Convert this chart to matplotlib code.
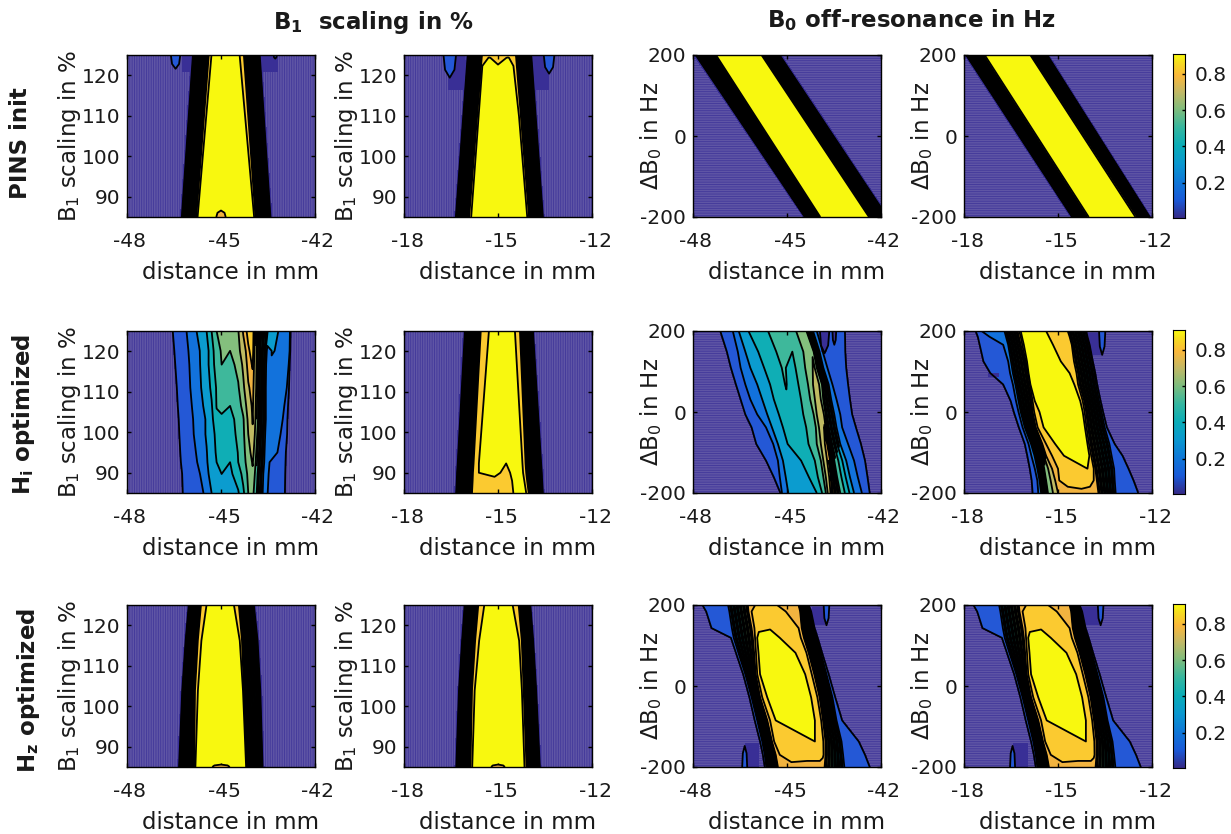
import numpy as np
import matplotlib
matplotlib.use('Agg')
import matplotlib.pyplot as plt
from matplotlib.colors import LinearSegmentedColormap
from matplotlib.transforms import ScaledTranslation

plt.rcParams['font.family'] = 'DejaVu Sans'
plt.rcParams['mathtext.default'] = 'regular'
plt.rcParams['axes.unicode_minus'] = False
plt.rcParams['hatch.color'] = '#41379a'
plt.rcParams['hatch.linewidth'] = 0.6

# every map is stored as contour curves:
# x columns in mm (one entry per y row), z columns = value along that curve
band = [0.02, 0.85, 0.92, 0.92, 0.85, 0.02]

# --- PINS init ---
init_b1_45_y = [125, 85]
init_b1_45_x = [[-45.95, -46.30], [-45.39, -45.79], [-45.27, -45.73],
                [-44.46, -43.96], [-44.27, -43.90], [-43.71, -43.37]]
init_b1_15_y = [125, 124.3, 122.3, 85]
init_b1_15_x = [[-16.01, -16.02, -16.04, -16.39], [-15.51, -15.52, -15.54, -15.92],
                [-15.47, -15.42, -15.50, -15.83], -15.29, -15.0, -14.68,
                [-14.47, -14.46, -14.45, -14.09], [-14.43, -14.42, -14.40, -14.01],
                [-13.89, -13.88, -13.86, -13.52]]
init_b1_15_z = [0.02, 0.85, [0.86, 0.87, 0.90, 0.92], [0.87, 0.905, 0.93, 0.93],
                [0.87, 0.875, 0.905, 0.93], [0.87, 0.905, 0.93, 0.93],
                [0.86, 0.87, 0.89, 0.92], 0.85, 0.02]
init_b0_45_y = [200, -200]
init_b0_45_x = [[-47.98, -44.48], [-47.31, -43.98], [-47.25, -43.92],
                [-45.83, -42.40], [-45.77, -42.34], [-45.18, -41.74]]
init_b0_15_x = [[-17.99, -14.60], [-17.39, -14.07], [-17.32, -14.00],
                [-15.90, -12.55], [-15.84, -12.47], [-15.29, -12.03]]

# --- Hi optimized ---
hi_b1_45_y = [125, 120.1, 116.7, 111, 106.5, 103.2, 99.5, 95, 92.6, 89.7, 85]
hi_b1_45_x = [[-46.54, -46.49, -46.46, -46.41, -46.38, -46.35, -46.33, -46.30, -46.28, -46.24, -46.22],
              [-46.10, -46.04, -46.01, -45.98, -45.93, -45.89, -45.87, -45.80, -45.76, -45.67, -45.56],
              -45.46, -45.30, -45.14, -44.98, -44.71, -44.45, -44.29, -44.13, -43.99, -43.86,
              [-43.49, -43.53, -43.56, -43.57, -43.57, -43.57, -43.59, -43.61, -43.62, -43.65, -43.67],
              [-43.33, -43.31, -43.53, -43.54, -43.54, -43.54, -43.56, -43.58, -43.59, -43.62, -43.64],
              [-43.17, -43.17, -43.49, -43.50, -43.50, -43.50, -43.52, -43.54, -43.55, -43.58, -43.60],
              [-42.80, -42.81, -42.84, -42.90, -42.98, -43.03, -43.10, -43.20, -43.45, -43.48, -43.51],
              [-42.78, -42.79, -42.81, -42.83, -42.86, -42.88, -42.89, -42.93, -42.94, -42.95, -42.96]]
hi_b1_45_z = [0.1, 0.2,
              [.40, .36, .36, .35, .33, .31, .31, .295, .29, .28, .24],
              [.50, .46, .46, .42, .39, .37, .37, .36, .35, .33, .30],
              [.60, .56, .54, .51, .505, .48, .42, .41, .40, .37, .32],
              [.62, .61, .60, .52, .515, .49, .43, .42, .415, .40, .34],
              [.65, .60, .565, .55, .50, .47, .46, .42, .40, .38, .37],
              [.695, .67, .63, .59, .56, .53, .52, .505, .50, .45, .39],
              [.81, .76, .72, .68, .63, .59, .58, .57, .565, .53, .48],
              [.87, .84, .83, .79, .75, .72, .70, .66, .64, .62, .60],
              [.89, .875, .855, .83, .815, .805, .79, .74, .71, .68, .63],
              [.70, .70, .69, .68, .66, .65, .62, .58, .56, .53, .50],
              [.33, .29, .30, .30, .30, .30, .30, .30, .30, .30, .30],
              [.33, .305, .29, .29, .29, .29, .29, .29, .29, .29, .29],
              [.30, .27, .28, .28, .28, .28, .28, .28, .28, .28, .28],
              0.2, 0.1]

hi_b1_15_y = [125, 92.3, 90, 88, 85]
hi_b1_15_x = [[-16.11, -16.34, -16.36, -16.37, -16.39], [-15.55, -15.78, -15.80, -15.81, -15.83],
              [-15.29, -15.61, -15.61, -15.65, -15.78], -15.11, -14.74,
              [-14.60, -14.55, -14.55, -14.55, -14.55], [-14.52, -14.43, -14.43, -14.43, -14.43],
              [-14.46, -14.22, -14.20, -14.16, -14.10], [-14.30, -14.12, -14.10, -14.07, -14.02],
              [-13.84, -13.57, -13.55, -13.54, -13.52]]
hi_b1_15_z = [0.02, 0.85, [.90, .90, .90, .88, .87], [.93, .93, .92, .88, .87],
              [.93, .90, .88, .87, .87], [.93, .93, .91, .90, .89], [.93, .93, .93, .93, .92],
              0.90, 0.85, 0.02]

hi_b0_45_y = [200, 149, 109, 68, 31, -6, -38, -79, -120, -161, -200]
hi_b0_45_x = [[-47.13, -46.92, -46.79, -46.63, -46.48, -46.33, -46.13, -45.98, -45.67, -45.42, -45.21],
              [-46.73, -46.57, -46.48, -46.33, -46.17, -45.95, -45.67, -45.44, -45.29, -45.23, -45.16],
              [-46.54, -46.33, -46.17, -45.95, -45.79, -45.63, -45.48, -45.29, -45.13, -45.04, -44.96],
              [-46.23, -45.92, -45.73, -45.54, -45.42, -45.26, -45.13, -44.98, -44.55, -44.30, -44.05],
              [-45.23, -45.17, -45.11, -45.04, -44.98, -44.86, -44.80, -44.73, -44.42, -44.17, -43.98],
              [-44.86, -44.83, -44.82, -44.76, -44.67, -44.58, -44.48, -44.42, -44.17, -44.05, -43.88],
              [-44.71, -44.48, -44.42, -44.33, -44.26, -44.15, -44.08, -44.05, -43.92, -43.84, -43.76],
              [-44.56, -44.28, -44.23, -44.17, -44.11, -44.05, -43.98, -43.92, -43.84, -43.76, -43.70],
              [-44.46, -44.21, -44.13, -44.02, -43.96, -43.86, -43.82, -43.74, -43.66, -43.59, -43.55],
              [-44.38, -44.15, -44.05, -43.92, -43.86, -43.77, -43.71, -43.61, -43.49, -43.40, -43.30],
              [-44.17, -43.96, -43.84, -43.67, -43.59, -43.49, -43.42, -43.30, -43.11, -42.99, -42.86],
              [-44.05, -43.86, -43.71, -43.55, -43.42, -43.30, -43.24, -43.05, -42.86, -42.74, -42.61],
              [-43.15, -43.14, -43.11, -43.05, -42.99, -42.92, -42.80, -42.64, -42.51, -42.43, -42.36]]
hi_b0_45_z = [0.1, 0.2, 0.3, 0.4,
              [.56, .53, .51, .505, .49, .47, .45, .42, .43, .45, .45],
              [.57, .50, .47, .46, .46, .47, .47, .46, .47, .48, .50],
              0.6,
              [.66, .68, .68, .70, .70, .70, .70, .70, .70, .70, .70],
              [.68, .69, .72, .74, .75, .77, .80, .84, .85, .86, .87],
              [.60, .60, .60, .65, .62, .60, .60, .60, .60, .60, .60],
              0.3, 0.2, 0.1]

hi_b0_15_y = [200, 186, 166, 125, 96, 68, 27, 0, -38, -79, -108, -140, -169, -200]
hi_b0_15_x = [[-17.63, -17.56, -17.50, -17.38, -17.16, -16.75, -16.51, -16.41, -16.25, -16.06, -15.98, -15.90, -15.84, -15.81],
              [-17.44, -17.19, -16.75, -16.59, -16.53, -16.44, -16.34, -16.26, -16.13, -15.94, -15.85, -15.74, -15.66, -15.63],
              [-16.71, -16.66, -16.59, -16.50, -16.44, -16.36, -16.26, -16.19, -16.06, -15.86, -15.75, -15.66, -15.59, -15.54],
              [-16.46, -16.41, -16.35, -16.24, -16.18, -16.11, -16.01, -15.96, -15.85, -15.64, -15.52, -15.44, -15.38, -15.32],
              [-16.29, -16.25, -16.19, -16.06, -16.00, -15.94, -15.85, -15.81, -15.71, -15.50, -15.38, -15.19, -15.09, -15.00],
              [-16.24, -16.19, -16.14, -16.03, -15.96, -15.90, -15.81, -15.76, -15.65, -15.38, -15.19, -15.00, -14.96, -14.94],
              [-16.19, -16.15, -16.09, -15.99, -15.94, -15.88, -15.74, -15.59, -15.46, -15.09, -14.81, -14.44, -14.69, -14.69],
              [-15.79, -15.72, -15.63, -15.44, -15.29, -15.19, -15.01, -14.90, -14.80, -14.56, -14.44, -14.06, -14.25, -14.25],
              [-15.38, -15.29, -15.16, -14.91, -14.63, -14.48, -14.29, -14.21, -14.14, -14.06, -14.00, -13.96, -13.98, -13.98],
              [-14.69, -14.63, -14.56, -14.49, -14.41, -14.36, -14.21, -14.15, -14.09, -14.01, -13.94, -13.86, -13.86, -13.79],
              [-14.63, -14.60, -14.53, -14.44, -14.36, -14.31, -14.16, -14.10, -14.04, -13.96, -13.89, -13.81, -13.76, -13.71],
              [-14.13, -14.09, -14.01, -13.91, -13.84, -13.79, -13.69, -13.61, -13.51, -13.36, -13.29, -13.21, -13.19, -13.16],
              [-14.10, -14.06, -13.99, -13.89, -13.81, -13.75, -13.64, -13.56, -13.44, -13.19, -12.94, -12.75, -12.59, -12.44]]
hi_b0_15_z = [0.1, 0.2, 0.3, 0.6, 0.8,
              [.85, .85, .85, .85, .85, .85, .85, .85, .85, .85, .85, .85, .85, .83],
              [.90, .90, .90, .90, .90, .90, .90, .90, .90, .90, .90, .88, .86, .84],
              [.92, .92, .92, .92, .92, .92, .92, .92, .92, .92, .92, .90, .87, .84],
              [.90, .90, .90, .90, .90, .90, .90, .90, .90, .90, .90, .88, .86, .84],
              [.85, .85, .85, .85, .85, .85, .85, .85, .85, .85, .85, .85, .85, .835],
              0.8, 0.2, 0.1]

# --- Hz optimized ---
hz_b1_y = [125, 116.2, 103.9, 85]
hz_b1_45_x = [[-46.07, -46.17, -46.28, -46.39], [-45.64, -45.74, -45.83, -45.86],
              [-45.39, -45.58, -45.70, -45.80], [-44.65, -44.43, -44.31, -44.21],
              [-44.43, -44.33, -44.27, -44.17], [-43.90, -43.78, -43.69, -43.62]]
hz_b1_15_x = [[-16.11, -16.19, -16.29, -16.38], [-15.63, -15.73, -15.83, -15.88],
              [-15.36, -15.55, -15.71, -15.80], [-14.61, -14.36, -14.26, -14.18],
              [-14.34, -14.24, -14.18, -14.09], [-13.93, -13.84, -13.74, -13.62]]

hz_b0_y = [200, 184, 143, 119, 82, 29, -28, -85, -137, -170, -200]
hz_b0_45_x = [[-47.70, -47.58, -47.41, -46.79, -46.63, -46.40, -46.20, -46.03, -45.86, -45.77, -45.71],
              [-46.88, -46.84, -46.76, -46.70, -46.55, -46.33, -46.13, -45.95, -45.79, -45.71, -45.66],
              [-46.25, -46.23, -46.13, -46.09, -46.05, -46.00, -45.86, -45.63, -45.48, -45.36, -45.29],
              [-46.17, -46.13, -46.04, -46.02, -45.99, -45.95, -45.79, -45.54, -45.41, -45.23, -45.04],
              [-45.86, -45.86, -45.88, -45.93, -45.91, -45.86, -45.63, -45.36, -44.48, -44.86, -44.86],
              [-45.42, -45.42, -45.54, -45.54, -45.29, -45.17, -44.92, -44.73, -44.11, -44.36, -44.36],
              [-45.11, -45.04, -44.92, -45.23, -44.73, -44.42, -44.23, -44.11, -43.96, -43.92, -43.98],
              [-44.80, -44.73, -44.63, -44.56, -44.38, -44.21, -44.03, -43.91, -43.84, -43.84, -43.91],
              [-44.63, -44.58, -44.53, -44.46, -44.31, -44.13, -43.96, -43.85, -43.77, -43.77, -43.80],
              [-44.33, -44.25, -44.15, -44.05, -43.92, -43.74, -43.55, -43.42, -43.26, -43.21, -43.17],
              [-44.31, -44.23, -44.12, -44.02, -43.88, -43.67, -43.46, -43.24, -42.71, -42.51, -42.36]]
hz_b0_z = [0.1, 0.2, 0.8,
           [.84, .85, .85, .85, .85, .85, .85, .85, .85, .85, .83],
           [.86, .87, .89, .915, .90, .90, .90, .90, .885, .865, .84],
           [.86, .87, .895, .93, .93, .93, .93, .93, .90, .86, .84],
           [.83, .85, .87, .90, .90, .90, .90, .90, .88, .86, .84],
           [.82, .83, .85, .85, .85, .85, .85, .85, .85, .855, .835],
           0.8, 0.2, 0.1]

# small lobes: x centre, half width, y at the tip, y at the frame, colour slot
init_b1_45_lobes = [(-46.45, 0.15, 121.6, 125, 2), (-43.27, 0.05, 124.1, 125, 2), (-45.0, 0.15, 86.6, 85, 9)]
init_b1_15_lobes = [(-16.54, 0.20, 119.4, 125, 2), (-13.37, 0.17, 120.4, 125, 2)]
hi_b0_45_lobes = [(-43.80, 0.15, 145, 200, 1), (-43.49, 0.06, 166, 200, 1)]
hi_b0_15_lobes = [(-13.59, 0.10, 141, 200, 2)]
hz_b1_45_lobes = [(-45.0, 0.28, 85.6, 85, 9)]
hz_b1_15_lobes = [(-15.0, 0.22, 85.6, 85, 9)]
hz_b0_45_lobes = [(-43.74, 0.09, 150, 200, 2), (-46.35, 0.08, -148, -200, 2)]
hz_b0_15_lobes = [(-13.64, 0.09, 150, 200, 2), (-16.45, 0.08, -148, -200, 2)]

# dark rectangles in the background: x0, x1, y0, y1
init_b1_45_dark = [(-46.24, -45.93, 120.8, 125), (-43.74, -43.19, 120.8, 125)]
init_b1_15_dark = [(-16.58, -16.06, 116.4, 125), (-13.87, -13.37, 116.4, 125)]
hi_b0_45_dark = [(-43.92, -43.73, 149, 200)]
hi_b0_15_dark = [(-14.12, -13.62, 141, 194), (-17.25, -16.88, 86, 96)]
hz_b0_45_dark = [(-44.20, -43.80, 150, 196), (-46.35, -45.88, -200, -141)]
hz_b0_15_dark = [(-14.22, -13.70, 150, 196), (-16.45, -15.95, -200, -141)]

levels = [-0.01, 0.03, 0.1, 0.2, 0.3, 0.4, 0.5, 0.6, 0.7, 0.8, 0.85, 0.9, 1.0]
line_levels = levels[2:-1]
# in steep flanks the contour lines run together to solid black
steep_levels = [0.13, 0.15, 0.16, 0.25, 0.27, 0.35, 0.37, 0.45, 0.47, 0.55, 0.57, 0.65, 0.67, 0.75, 0.77]
steep_slope = 0.9  # value per mm
steep_step = 0.19
zone_colors = ['#5f55a5', '#392f96', '#2458d6', '#1272dc', '#0b9ccf', '#0faeb5',
               '#3eb89b', '#84bf7d', '#c0bb62', '#f1b340', '#fbca30', '#f8f80f']

parula = LinearSegmentedColormap.from_list('parula', [
    (0.0, '#352a87'), (0.11, '#1a5ad8'), (0.22, '#0f78d8'), (0.33, '#0a98d0'),
    (0.44, '#0aadb8'), (0.55, '#35b7a0'), (0.66, '#7dbd7e'), (0.77, '#c3b966'),
    (0.87, '#fbb83c'), (0.95, '#f6dc20'), (1.0, '#f9fb0e')])

W, H = 1231, 834
col_px = [(127, 315), (404, 592), (693, 881), (964, 1152)]
row_px = [(55, 217), (331, 493), (605, 767)]
bar_px = (1173, 1185)
text_color = '#1a1a1a'
LW = 1.3


def px_axes(fig, x0, x1, y0, y1):
    return fig.add_axes([x0 / W, 1 - y1 / H, (x1 - x0) / W, (y1 - y0) / H])


def draw_map(ax, y, x_cols, z_cols, lobes=(), dark=(), hatch='|||||||'):
    n = len(y)
    x = np.column_stack([np.broadcast_to(c, (n,)) for c in x_cols]).astype(float)
    z = np.column_stack([np.broadcast_to(c, (n,)) for c in z_cols]).astype(float)
    lo, hi = ax.get_xlim()
    # purple background out to both sides of the curves
    x = np.column_stack([np.full(n, lo - 3), x[:, 0] - 0.02, x, x[:, -1] + 0.02, np.full(n, hi + 3)])
    z = np.column_stack([np.zeros(n), np.full(n, 0.02), z, np.full(n, 0.02), np.zeros(n)])
    yy = np.tile(np.array(y, dtype=float)[:, None], (1, x.shape[1]))
    ax.contourf(x, yy, z, levels=levels, colors=zone_colors, zorder=1,
                hatches=[hatch] + [None] * 11)
    for x0, x1, y0, y1 in dark:
        ax.fill_between([x0, x1], y0, y1, color=zone_colors[1], lw=0, zorder=1.5)
    ax.contour(x, yy, z, levels=line_levels, colors='k', linewidths=LW, zorder=2)

    # extra lines only next to steep column gaps
    step = np.abs(np.diff(z, axis=1))
    slope = step / np.maximum(np.diff(x, axis=1), 1e-6)
    steep = (slope > steep_slope) & (step > steep_step)
    keep = np.zeros(z.shape, dtype=bool)
    keep[:, :-1] |= steep
    keep[:, 1:] |= steep
    ax.contour(x, yy, np.ma.array(z, mask=~keep), levels=steep_levels, colors='k',
               linewidths=LW, zorder=2)

    for x0, half, y_tip, y_edge, slot in lobes:
        xs = [x0 - 2 * half, x0, x0 + 2 * half]
        ys = [y_tip, y_tip + 0.35 * (y_edge - y_tip), y_edge]
        zs = [[0, 0.5, 0], [0, 0.8, 0], [0, 1, 0]]
        if ys[0] > ys[-1]:
            ys, zs = ys[::-1], zs[::-1]
        ax.contourf(xs, ys, zs, levels=[0.5, 2], colors=[zone_colors[slot]], zorder=3)
        ax.contour(xs, ys, zs, levels=[0.5], colors='k', linewidths=LW, zorder=3)


def style_axes(ax, xticks, yticks, ylabel, yx):
    ax.set_xticks(xticks)
    ax.set_yticks(yticks)
    ax.tick_params(direction='in', top=True, right=True, length=3, width=1,
                   labelsize=14.5, labelcolor=text_color)
    ax.tick_params(axis='x', pad=11)
    ax.tick_params(axis='y', pad=5)
    shift = ScaledTranslation(3 / 100, 0, fig.dpi_scale_trans)
    for lab in ax.get_xticklabels():
        lab.set_transform(lab.get_transform() + shift)
    for s in ax.spines.values():
        s.set_linewidth(1.0)
        s.set_zorder(5)
    ax.set_xlabel('distance in mm', fontsize=16.5, color=text_color, va='center')
    ax.xaxis.set_label_coords(0.553, -0.34)
    ax.set_ylabel(ylabel, fontsize=16.5, color=text_color, va='center')
    ax.yaxis.set_label_coords(yx, 0.5)


fig = plt.figure(figsize=(W / 100, H / 100), dpi=100)

b1_label = r'B$_1$ scaling in %'
b0_label = r'$\Delta$B$_0$ in Hz'
b1_ticks = [90, 100, 110, 120]
b0_ticks = [-200, 0, 200]

panels = [
    [(init_b1_45_y, init_b1_45_x, band, init_b1_45_lobes, init_b1_45_dark),
     (init_b1_15_y, init_b1_15_x, init_b1_15_z, init_b1_15_lobes, init_b1_15_dark),
     (init_b0_45_y, init_b0_45_x, band, (), ()),
     (init_b0_45_y, init_b0_15_x, band, (), ())],
    [(hi_b1_45_y, hi_b1_45_x, hi_b1_45_z, (), ()),
     (hi_b1_15_y, hi_b1_15_x, hi_b1_15_z, (), ()),
     (hi_b0_45_y, hi_b0_45_x, hi_b0_45_z, hi_b0_45_lobes, hi_b0_45_dark),
     (hi_b0_15_y, hi_b0_15_x, hi_b0_15_z, hi_b0_15_lobes, hi_b0_15_dark)],
    [(hz_b1_y, hz_b1_45_x, band, hz_b1_45_lobes, ()),
     (hz_b1_y, hz_b1_15_x, band, hz_b1_15_lobes, ()),
     (hz_b0_y, hz_b0_45_x, hz_b0_z, hz_b0_45_lobes, hz_b0_45_dark),
     (hz_b0_y, [np.array(c) + 30 for c in hz_b0_45_x], hz_b0_z, hz_b0_15_lobes, hz_b0_15_dark)],
]

for r, (top, bottom) in enumerate(row_px):
    for c, (left, right) in enumerate(col_px):
        ax = px_axes(fig, left, right, top, bottom)
        x0 = -48 if c % 2 == 0 else -18
        ax.set_xlim(x0, x0 + 6)
        y, xc, zc, lobes, dark = panels[r][c]
        if c < 2:
            ax.set_ylim(85, 125)
        else:
            ax.set_ylim(-200, 200)
        draw_map(ax, y, xc, zc, lobes, dark, '|||||||' if c < 2 else '-------')
        ax.set_xlim(x0, x0 + 6)
        if c < 2:
            style_axes(ax, [x0, x0 + 3, x0 + 6], b1_ticks, b1_label, -0.305)
        else:
            style_axes(ax, [x0, x0 + 3, x0 + 6], b0_ticks, b0_label, -0.225)

    # colour bar
    cax = px_axes(fig, bar_px[0], bar_px[1], top - 1, bottom + 1)
    vmin, vmax = 0.005, 0.91
    grad = np.linspace(0, 1, 256)[:, None]
    cax.imshow(grad, origin='lower', aspect='auto', cmap=parula, extent=[0, 1, vmin, vmax])
    cax.set_xticks([])
    cax.set_yticks([0.2, 0.4, 0.6, 0.8])
    cax.yaxis.tick_right()
    cax.tick_params(direction='in', length=2.5, width=1, labelsize=14.5,
                    labelcolor=text_color, pad=7)

fig.text(373 / W, 1 - 22 / H, r'$\mathbf{B_1}$  scaling in %', fontsize=16.5, fontweight='bold',
         ha='center', va='center', color=text_color)
fig.text(912 / W, 1 - 20 / H, r'$\mathbf{B_0}$ off-resonance in Hz', fontsize=16.5, fontweight='bold',
         ha='center', va='center', color=text_color)
fig.text(21 / W, 1 - 143 / H, 'PINS init', fontsize=16.5, fontweight='bold', rotation=90,
         ha='center', va='center', color=text_color)
fig.text(24 / W, 1 - 414 / H, r'$\mathbf{H_i}$ optimized', fontsize=16.5, fontweight='bold', rotation=90,
         ha='center', va='center', color=text_color)
fig.text(29 / W, 1 - 690 / H, r'$\mathbf{H_z}$ optimized', fontsize=16.5, fontweight='bold', rotation=90,
         ha='center', va='center', color=text_color)

fig.savefig('out.png', dpi=100)
